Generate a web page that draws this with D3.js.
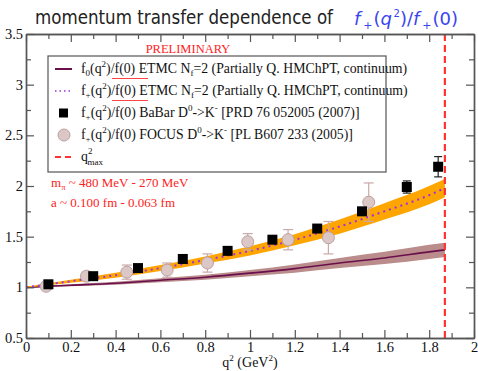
<!DOCTYPE html>
<html>
<head>
<meta charset="utf-8">
<script src="https://cdn.jsdelivr.net/npm/d3@7"></script>
<style>
  body { margin: 0; background: #fff; }
  svg { display: block; }
</style>
</head>
<body>
<div class="vis-chart"></div>
<script>
// values
const babarQ = [0.1, 0.3, 0.5, 0.7, 0.9, 1.1, 1.3, 1.5, 1.7, 1.84];
const babarF = [1.03, 1.11, 1.19, 1.28, 1.36, 1.47, 1.58, 1.75, 1.99, 2.19];
const babarErr = [0.02, 0.02, 0.02, 0.02, 0.02, 0.02, 0.03, 0.02, 0.06, 0.1];

const focusQ = [0.09, 0.27, 0.45, 0.63, 0.81, 0.99, 1.17, 1.35, 1.53];
const focusF = [1.01, 1.11, 1.15, 1.17, 1.24, 1.45, 1.47, 1.49, 1.84];
const focusErr = [0.03, 0.04, 0.07, 0.07, 0.09, 0.08, 0.1, 0.16, 0.19];

const bandQ = [0, 0.2, 0.4, 0.6, 0.8, 1.0, 1.2, 1.4, 1.6, 1.8, 1.87];
const fPlusMid = [1.0, 1.06, 1.12, 1.19, 1.27, 1.36, 1.47, 1.6, 1.75, 1.91, 1.98];
const fPlusHalf = [0.005, 0.015, 0.025, 0.03, 0.035, 0.045, 0.055, 0.07, 0.08, 0.09, 0.09];
const fZeroMid = [1.0, 1.02, 1.04, 1.07, 1.1, 1.14, 1.185, 1.24, 1.29, 1.35, 1.37];
const fZeroHalf = [0.004, 0.01, 0.015, 0.02, 0.025, 0.03, 0.04, 0.05, 0.06, 0.07, 0.07];

const qMax = 1.87;

const xTicks = [0, 0.2, 0.4, 0.6, 0.8, 1, 1.2, 1.4, 1.6, 1.8, 2];
const xMinor = [0.1, 0.3, 0.5, 0.7, 0.9, 1.1, 1.3, 1.5, 1.7, 1.9];
const yTicks = [0.5, 1, 1.5, 2, 2.5, 3, 3.5];
const yMinor = [0.75, 1.25, 1.75, 2.25, 2.75, 3.25];

const width = 478, height = 371;
const plot = { left: 26, right: 474, top: 34, bottom: 338 };

const svg = d3.select(".vis-chart").append("svg")
  .attr("width", width)
  .attr("height", height);

const x = d3.scaleLinear().domain([0, 2]).range([plot.left, plot.right]);
const y = d3.scaleLinear().domain([0.5, 3.5]).range([plot.bottom, plot.top]);

const serif = "'Liberation Serif', 'Times New Roman', serif";

// title
svg.append("text")
  .attr("x", 35).attr("y", 24)
  .attr("textLength", 298).attr("lengthAdjust", "spacingAndGlyphs")
  .style("font-family", "'DejaVu Sans', sans-serif")
  .style("font-size", "19px")
  .style("fill", "#222")
  .text("momentum transfer dependence of");

const blue = svg.append("text")
  .attr("x", 354).attr("y", 25)
  .style("font-family", "'DejaVu Sans', sans-serif")
  .style("font-size", "18px")
  .style("fill", "#3a44ee");
blue.append("tspan").style("font-style", "italic").text("f");
blue.append("tspan").attr("dx", 3).attr("dy", 4).style("font-size", "11px").text("+");
blue.append("tspan").attr("dx", 1).attr("dy", -4).text("(");
blue.append("tspan").style("font-style", "italic").text("q");
blue.append("tspan").attr("dx", 1.5).attr("dy", -8).style("font-size", "10px").text("2");
blue.append("tspan").attr("dy", 8).text(")/");
blue.append("tspan").style("font-style", "italic").text("f");
blue.append("tspan").attr("dx", 3).attr("dy", 4).style("font-size", "11px").text("+");
blue.append("tspan").attr("dx", 1).attr("dy", -4).text("(0)");

// bands
const area = (mid, half) => d3.area()
  .x((d, i) => x(bandQ[i]))
  .y0((d, i) => y(mid[i] - half[i]))
  .y1((d, i) => y(mid[i] + half[i]))
  .curve(d3.curveMonotoneX);

const line = (mid) => d3.line()
  .x((d, i) => x(bandQ[i]))
  .y((d, i) => y(mid[i]))
  .curve(d3.curveMonotoneX);

svg.append("path")
  .datum(bandQ)
  .attr("fill", "#ba8c8c")
  .attr("d", area(fZeroMid, fZeroHalf));

svg.append("path")
  .datum(bandQ)
  .attr("fill", "none")
  .attr("stroke", "#6a0f4c")
  .attr("stroke-width", 1.6)
  .attr("d", line(fZeroMid));

svg.append("path")
  .datum(bandQ)
  .attr("fill", "#ffa500")
  .attr("d", area(fPlusMid, fPlusHalf));

svg.append("path")
  .datum(bandQ)
  .attr("fill", "none")
  .attr("stroke", "#a030e0")
  .attr("stroke-width", 2)
  .attr("stroke-dasharray", "2,4")
  .attr("d", line(fPlusMid));

// FOCUS points
const focus = svg.append("g");
focusQ.forEach(function (q, i) {
  const cx = x(q);
  const lo = y(focusF[i] - focusErr[i]);
  const hi = y(focusF[i] + focusErr[i]);
  focus.append("line").attr("x1", cx).attr("x2", cx).attr("y1", lo).attr("y2", hi)
    .attr("stroke", "#c9a9a9").attr("stroke-width", 1.2);
  [lo, hi].forEach(function (yy) {
    focus.append("line").attr("x1", cx - 5).attr("x2", cx + 5).attr("y1", yy).attr("y2", yy)
      .attr("stroke", "#c9a9a9").attr("stroke-width", 1.2);
  });
  focus.append("circle").attr("cx", cx).attr("cy", y(focusF[i])).attr("r", 6)
    .attr("fill", "#dcc7c7").attr("stroke", "#bda0a0").attr("stroke-width", 1);
});

// BaBar points
const babar = svg.append("g");
babarQ.forEach(function (q, i) {
  const cx = x(q);
  const lo = y(babarF[i] - babarErr[i]);
  const hi = y(babarF[i] + babarErr[i]);
  babar.append("line").attr("x1", cx).attr("x2", cx).attr("y1", lo).attr("y2", hi)
    .attr("stroke", "#222").attr("stroke-width", 1.2);
  [lo, hi].forEach(function (yy) {
    babar.append("line").attr("x1", cx - 4).attr("x2", cx + 4).attr("y1", yy).attr("y2", yy)
      .attr("stroke", "#222").attr("stroke-width", 1.2);
  });
  babar.append("rect").attr("x", cx - 5).attr("y", y(babarF[i]) - 5)
    .attr("width", 10).attr("height", 10).attr("fill", "#000");
});

// q2 max
svg.append("line")
  .attr("x1", x(qMax)).attr("x2", x(qMax))
  .attr("y1", plot.top).attr("y2", plot.bottom)
  .attr("stroke", "#f33").attr("stroke-width", 2.2)
  .attr("stroke-dasharray", "7,4");

// axes, ticks inward on all four sides
const fmt = d3.format("~g");
function axisStyle(g) {
  g.selectAll("path.domain").attr("stroke", "#555").attr("stroke-width", 1.4);
  g.selectAll(".tick line").attr("stroke", "#555").attr("stroke-width", 1.2);
  g.selectAll("text").style("font-family", serif).style("font-size", "14.5px").style("fill", "#111");
}

svg.append("g").attr("transform", "translate(0," + plot.bottom + ")")
  .call(d3.axisBottom(x).tickValues(xTicks).tickFormat(fmt).tickSize(-8).tickSizeOuter(0).tickPadding(4))
  .call(axisStyle);
svg.append("g").attr("transform", "translate(0," + plot.bottom + ")")
  .call(d3.axisBottom(x).tickValues(xMinor).tickFormat("").tickSize(-5).tickSizeOuter(0))
  .call(axisStyle);
svg.append("g").attr("transform", "translate(0," + plot.top + ")")
  .call(d3.axisTop(x).tickValues(xTicks).tickFormat("").tickSize(-8).tickSizeOuter(0))
  .call(axisStyle);
svg.append("g").attr("transform", "translate(0," + plot.top + ")")
  .call(d3.axisTop(x).tickValues(xMinor).tickFormat("").tickSize(-5).tickSizeOuter(0))
  .call(axisStyle);

svg.append("g").attr("transform", "translate(" + plot.left + ",0)")
  .call(d3.axisLeft(y).tickValues(yTicks).tickFormat(fmt).tickSize(-8).tickSizeOuter(0).tickPadding(3))
  .call(axisStyle);
svg.append("g").attr("transform", "translate(" + plot.left + ",0)")
  .call(d3.axisLeft(y).tickValues(yMinor).tickFormat("").tickSize(-5).tickSizeOuter(0))
  .call(axisStyle);
svg.append("g").attr("transform", "translate(" + plot.right + ",0)")
  .call(d3.axisRight(y).tickValues(yTicks).tickFormat("").tickSize(-8).tickSizeOuter(0))
  .call(axisStyle);
svg.append("g").attr("transform", "translate(" + plot.right + ",0)")
  .call(d3.axisRight(y).tickValues(yMinor).tickFormat("").tickSize(-5).tickSizeOuter(0))
  .call(axisStyle);

// x label
const xl = svg.append("text")
  .attr("x", 250).attr("y", 367)
  .attr("text-anchor", "middle")
  .style("font-family", serif).style("font-size", "14px").style("fill", "#111");
xl.append("tspan").text("q");
xl.append("tspan").attr("dy", -6).style("font-size", "9px").text("2");
xl.append("tspan").attr("dy", 6).text(" (GeV");
xl.append("tspan").attr("dy", -6).style("font-size", "9px").text("2");
xl.append("tspan").attr("dy", 6).text(")");

// PRELIMINARY
svg.append("text")
  .attr("x", 188).attr("y", 53)
  .attr("text-anchor", "middle")
  .style("font-family", serif).style("font-size", "12.5px").style("fill", "#f22")
  .text("PRELIMINARY");

// legend
const legend = svg.append("g");
legend.append("rect")
  .attr("x", 48).attr("y", 56).attr("width", 338).attr("height", 116)
  .attr("fill", "#fff").attr("stroke", "#555").attr("stroke-width", 1.2);

const rowY = [69, 91, 113, 135, 157];
const textX = 81;

legend.append("line").attr("x1", 55).attr("x2", 72).attr("y1", rowY[0]).attr("y2", rowY[0])
  .attr("stroke", "#6a0f4c").attr("stroke-width", 2);
legend.append("line").attr("x1", 55).attr("x2", 72).attr("y1", rowY[1]).attr("y2", rowY[1])
  .attr("stroke", "#a030e0").attr("stroke-width", 1.5).attr("stroke-dasharray", "1.5,3");
legend.append("rect").attr("x", 59).attr("y", rowY[2] - 4.5).attr("width", 9).attr("height", 9).attr("fill", "#000");
legend.append("circle").attr("cx", 64).attr("cy", rowY[3]).attr("r", 6)
  .attr("fill", "#dcc7c7").attr("stroke", "#bda0a0");
legend.append("line").attr("x1", 55).attr("x2", 72).attr("y1", rowY[4]).attr("y2", rowY[4])
  .attr("stroke", "#f33").attr("stroke-width", 2).attr("stroke-dasharray", "6,4");

function legendText(row, parts) {
  const t = legend.append("text")
    .attr("x", textX).attr("y", rowY[row] + 4)
    .style("font-family", serif).style("font-size", "13.8px").style("fill", "#111");
  let shift = 0;
  parts.forEach(function (p) {
    const s = t.append("tspan").text(p[0]);
    const want = p[1] || 0;
    if (want !== shift) s.attr("dy", want - shift);
    if (want !== 0) s.style("font-size", "9px");
    if (p[2]) s.attr("dx", p[2]);
    shift = want;
  });
  return t;
}

const etmcTail = [")/f(0) ETMC N", 0], etmcRest = ["f", 3], etmcEnd = ["=2 (Partially Q. HMChPT, continuum)", 0];
legendText(0, [["f", 0], ["0", 3], ["(q", 0], ["2", -6], etmcTail, etmcRest, etmcEnd]);
legendText(1, [["f", 0], ["+", 3], ["(q", 0], ["2", -6], etmcTail, etmcRest, etmcEnd]);
legendText(2, [["f", 0], ["+", 3], ["(q", 0], ["2", -6], [")/f(0) BaBar D", 0], ["0", -6], ["->K", 0], ["-", -6], [" [PRD 76 052005 (2007)]", 0]]);
legendText(3, [["f", 0], ["+", 3], ["(q", 0], ["2", -6], [")/f(0) FOCUS D", 0], ["0", -6], ["->K", 0], ["-", -6], [" [PL B607 233 (2005)]", 0]]);
legendText(4, [["q", 0], ["2", -7], ["max", 4, -5]]);

// red underline under f(0) ETMC
[0, 1].forEach(function (r) {
  legend.append("line")
    .attr("x1", 112).attr("x2", 148)
    .attr("y1", rowY[r] + 9.5).attr("y2", rowY[r] + 9.5)
    .attr("stroke", "#f44").attr("stroke-width", 1);
});

// parameter notes
const note1 = svg.append("text")
  .attr("x", 51).attr("y", 187)
  .style("font-family", serif).style("font-size", "13px").style("fill", "#f22");
note1.append("tspan").text("m");
note1.append("tspan").attr("dy", 3).style("font-size", "8.5px").text("π");
note1.append("tspan").attr("dy", -3).text(" ~ 480 MeV - 270 MeV");

svg.append("text")
  .attr("x", 51).attr("y", 207)
  .style("font-family", serif).style("font-size", "13px").style("fill", "#f22")
  .text("a ~ 0.100 fm - 0.063 fm");
</script>
</body>
</html>
